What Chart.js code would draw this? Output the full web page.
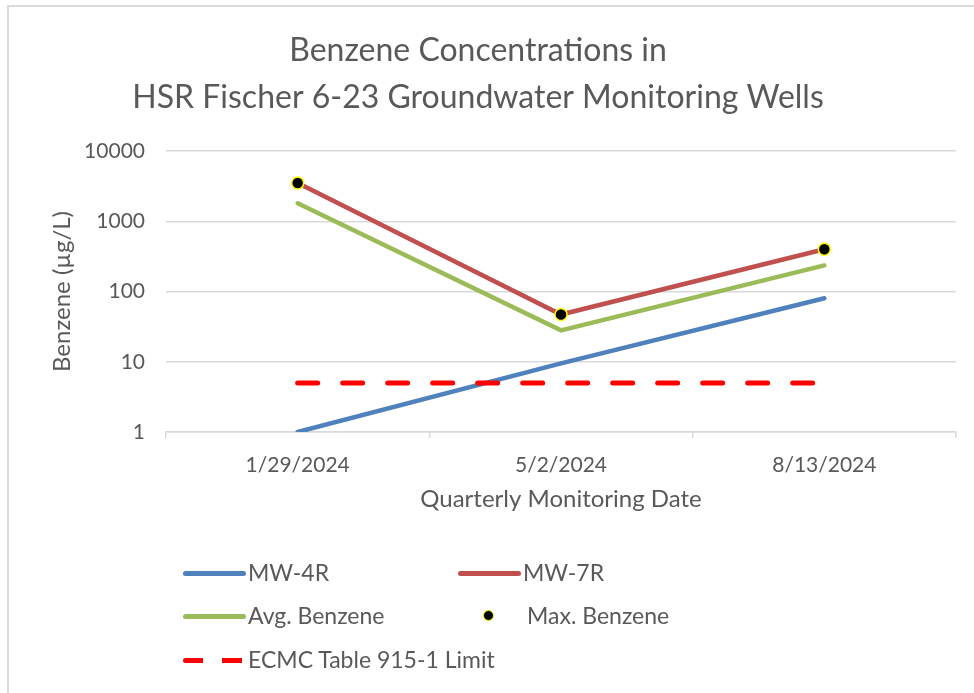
<!DOCTYPE html>
<html>
<head>
<meta charset="utf-8">
<script src="https://cdn.jsdelivr.net/npm/chart.js@4.4.1/dist/chart.umd.min.js"></script>
<style>
  html, body { margin: 0; padding: 0; background: #ffffff; }
  body { width: 974px; height: 693px; position: relative; overflow: hidden; font-family: Lato, 'Open Sans', sans-serif; }
  #frame { position: absolute; left: 7px; top: 5px; width: 1000px; height: 720px;
           border-left: 2px solid #d9d9d9; border-top: 2px solid #d9d9d9; }
  #chart { position: absolute; left: 0; top: 0; }
  #legend { position: absolute; left: 0; top: 0; width: 974px; height: 693px; pointer-events: none; }
  .item { position: absolute; height: 26px; display: flex; align-items: center; color: #595959; font-size: 23px; white-space: nowrap; }
  .swatch { position: absolute; }
</style>
</head>
<body>
<div id="frame"></div>
<canvas id="chart" width="974" height="530"></canvas>
<div id="legend"></div>
<script>
// Quarterly sample dates
var dates = ['1/29/2024', '5/2/2024', '8/13/2024'];

// Benzene (µg/L) per well
var mw4r = [1, 9.5, 80];
var mw7r = [3500, 47, 400];
var avgBenzene = [1800, 28, 235];
var maxBenzene = [3500, 47, 400];
var ecmcLimit = [5, 5, 5];

// y-axis decades shown
var yTicks = [1, 10, 100, 1000, 10000];

var TEXT = '#595959';
var GRID = '#d9d9d9';
var FONT = 'Lato, "Open Sans", sans-serif';
var TITLE_SIZE = 32;

var datasets = [
    {
        label: 'MW-4R', data: mw4r, borderColor: '#4f81bd', backgroundColor: '#4f81bd',
        borderWidth: 4.5, pointRadius: 0, order: 4, borderCapStyle: 'round'
    },
    {
        label: 'MW-7R', data: mw7r, borderColor: '#c0504d', backgroundColor: '#c0504d',
        borderWidth: 4.5, pointRadius: 0, order: 3, borderCapStyle: 'round'
    },
    {
        label: 'Avg. Benzene', data: avgBenzene, borderColor: '#9bbb59', backgroundColor: '#9bbb59',
        borderWidth: 4.5, pointRadius: 0, order: 2, borderCapStyle: 'round'
    },
    {
        label: 'Max. Benzene', data: maxBenzene, showLine: false,
        pointRadius: 6, pointBackgroundColor: '#000000', pointBorderColor: '#ffff00',
        pointBorderWidth: 1.5, borderColor: '#ffff00', backgroundColor: '#000000', order: 0
    },
    {
        label: 'ECMC Table 915-1 Limit', data: ecmcLimit, borderColor: '#ff0000', backgroundColor: '#ff0000',
        borderWidth: 5, borderDash: [20, 25], borderCapStyle: 'round', pointRadius: 0, order: 1
    }
];

var chart = new Chart(document.getElementById('chart'), {
    type: 'line',
    data: { labels: dates, datasets: datasets },
    options: {
        responsive: false,
        animation: false,
        layout: { padding: { left: 0, right: 18, top: 0, bottom: 0 } },
        plugins: {
            legend: { display: false },
            tooltip: { enabled: false },
            title: {
                display: true,
                text: ['Benzene Concentrations in', 'HSR Fischer 6-23 Groundwater Monitoring Wells'],
                color: TEXT,
                font: { family: FONT, size: TITLE_SIZE, weight: 'normal', lineHeight: 47 / TITLE_SIZE },
                padding: { top: 27, bottom: 30 }
            }
        },
        scales: {
            x: {
                type: 'category',
                offset: true,
                grid: { offset: true, drawOnChartArea: false, drawTicks: true, tickLength: 6, color: GRID, lineWidth: 1.5 },
                border: { display: true, color: GRID, width: 1.5 },
                ticks: { color: TEXT, padding: 15, font: { family: FONT, size: 21 } },
                title: {
                    display: true, text: 'Quarterly Monitoring Date', color: TEXT,
                    font: { family: FONT, size: 24 }, padding: { top: 0, bottom: 16 }
                },
                afterFit: function(scale) { scale.height = 98; }
            },
            y: {
                type: 'logarithmic',
                min: 1,
                max: 10000,
                afterBuildTicks: function(scale) {
                    scale.ticks = yTicks.map(function(v) { return { value: v }; });
                },
                grid: { drawTicks: false, color: GRID, lineWidth: 1.5 },
                border: { display: false },
                ticks: {
                    color: TEXT, padding: 21, font: { family: FONT, size: 21 },
                    callback: function(v) { return String(v); }
                },
                title: {
                    display: true, text: 'Benzene (µg/L)', color: TEXT,
                    font: { family: FONT, size: 24 }, padding: { top: 48, bottom: 0 }
                },
                afterFit: function(scale) { scale.width = 166; }
            }
        }
    }
});

// Legend drawn as HTML in two columns, Excel style
var legendSlots = [
    { idx: 0, x: 183, y: 573 },
    { idx: 1, x: 458, y: 573 },
    { idx: 2, x: 183, y: 616 },
    { idx: 3, x: 458, y: 616 },
    { idx: 4, x: 183, y: 660 }
];
var legendEl = document.getElementById('legend');
legendSlots.forEach(function(slot) {
    var ds = datasets[slot.idx];
    var sw = document.createElement('div');
    sw.className = 'swatch';
    if (ds.showLine === false) {
        sw.style.left = (slot.x + 25) + 'px';
        sw.style.top = (slot.y - 6) + 'px';
        sw.style.width = '9px';
        sw.style.height = '9px';
        sw.style.borderRadius = '50%';
        sw.style.background = ds.pointBackgroundColor;
        sw.style.border = '1.5px solid ' + ds.pointBorderColor;
    } else if (ds.borderDash) {
        sw.style.left = slot.x + 'px';
        sw.style.top = (slot.y - 2.5) + 'px';
        sw.style.width = '62px';
        sw.style.height = '5px';
        sw.style.background = 'linear-gradient(to right, ' + ds.borderColor + ' 0 20px, transparent 20px 39px, ' +
            ds.borderColor + ' 39px 59px, transparent 59px)';
        sw.style.borderRadius = '3px';
    } else {
        sw.style.left = slot.x + 'px';
        sw.style.top = (slot.y - 2.5) + 'px';
        sw.style.width = '63px';
        sw.style.height = '5px';
        sw.style.borderRadius = '3px';
        sw.style.background = ds.borderColor;
    }
    legendEl.appendChild(sw);
    var txt = document.createElement('div');
    txt.className = 'item';
    txt.textContent = ds.label;
    txt.style.left = (slot.x + (ds.showLine === false ? 69 : 65)) + 'px';
    txt.style.top = (slot.y - 14) + 'px';
    legendEl.appendChild(txt);
});
</script>
</body>
</html>
